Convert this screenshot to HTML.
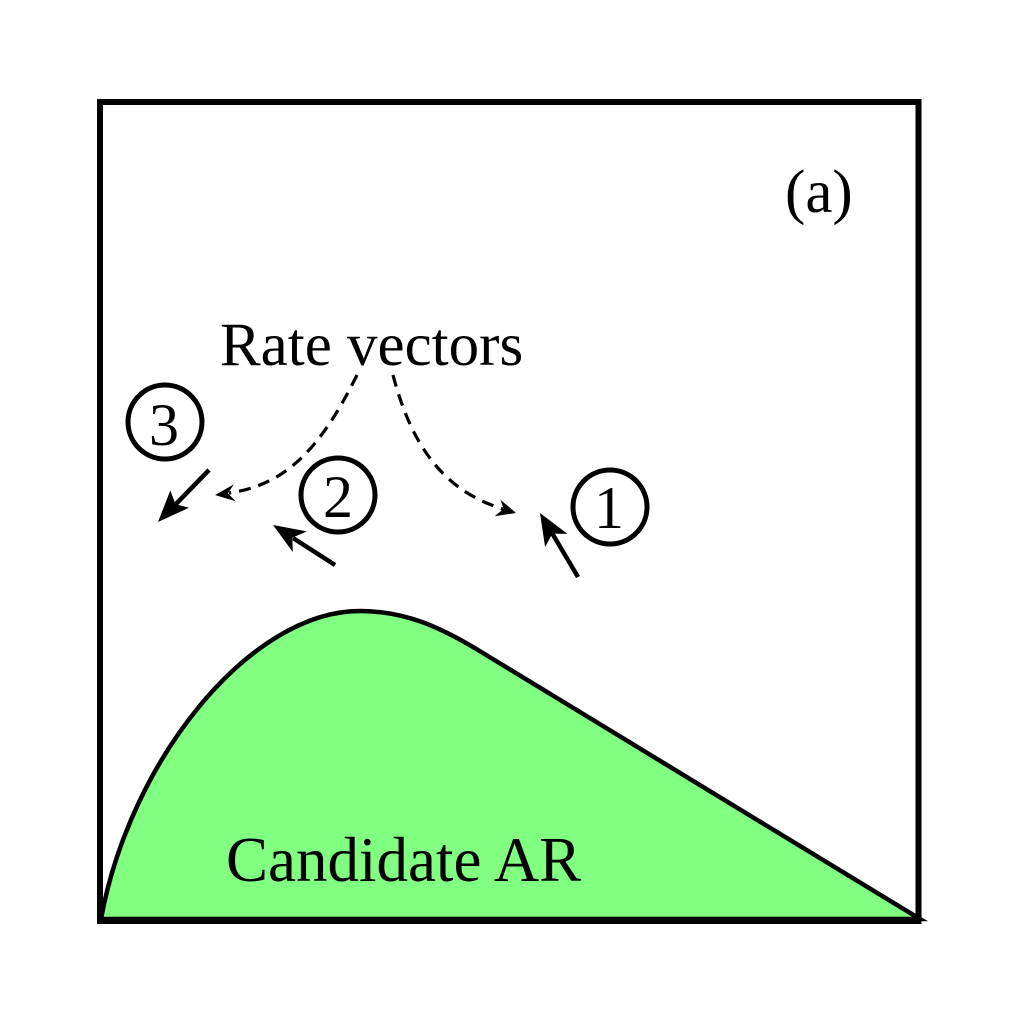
<!DOCTYPE html>
<html>
<head>
<meta charset="utf-8">
<style>
  html,body{margin:0;padding:0;background:#fff;}
  svg{display:block;}
  text{font-family:"Liberation Serif","Times New Roman",serif;fill:#000;}
</style>
</head>
<body>
<svg width="1024" height="1024" viewBox="0 0 1024 1024" xmlns="http://www.w3.org/2000/svg">
  <rect x="0" y="0" width="1024" height="1024" fill="#fff"/>

  <!-- Candidate AR region -->
  <path d="M 101 919 C 130 760, 250 611, 360 611 C 405 611, 440 627, 478 650 L 920 919 Z"
        fill="#80ff80" stroke="#000" stroke-width="4.5" stroke-linejoin="miter"/>

  <!-- Outer box -->
  <rect x="100" y="102" width="818.5" height="819" fill="none" stroke="#000" stroke-width="6"/>

  <!-- Labels -->
  <text x="785" y="212" font-size="61">(a)</text>
  <text x="220" y="365" font-size="61">Rate vectors</text>
  <text x="226" y="881" font-size="63">Candidate AR</text>

  <!-- Dashed connectors -->
  <path d="M 357 375 C 320 450, 285 485, 229 493" fill="none" stroke="#000" stroke-width="3.2" stroke-dasharray="12 8"/>
  <polygon points="215,495 235.7,501.2 227.9,493.2 233.9,484.4" fill="#000"/>

  <path d="M 393 375 C 410 440, 440 490, 503 509" fill="none" stroke="#000" stroke-width="3.2" stroke-dasharray="12 8"/>
  <polygon points="516,513 494.7,516.2 503.6,508.8 500.5,499.7" fill="#000"/>

  <!-- Circled numbers -->
  <circle cx="165" cy="422" r="37" fill="none" stroke="#000" stroke-width="5"/>
  <text x="164" y="445" font-size="60" text-anchor="middle">3</text>

  <circle cx="338" cy="495" r="37" fill="none" stroke="#000" stroke-width="5"/>
  <text x="338" y="517" font-size="60" text-anchor="middle">2</text>

  <circle cx="610" cy="507" r="37" fill="none" stroke="#000" stroke-width="5"/>
  <text x="609" y="528" font-size="60" text-anchor="middle">1</text>

  <!-- Solid arrows -->
  <line x1="209" y1="470" x2="175" y2="505" stroke="#000" stroke-width="4.5"/>
  <polygon points="158,522 170.3,490.5 175.5,504.1 188.9,507.8" fill="#000"/>

  <line x1="335" y1="565" x2="293" y2="538" stroke="#000" stroke-width="4.5"/>
  <polygon points="273,525 306.9,531.4 292.3,537.6 292.8,552.0" fill="#000"/>

  <line x1="578" y1="577" x2="552" y2="533" stroke="#000" stroke-width="4.5"/>
  <polygon points="540,513 567.5,533.9 552.3,533.6 545.1,547.1" fill="#000"/>
</svg>
</body>
</html>
